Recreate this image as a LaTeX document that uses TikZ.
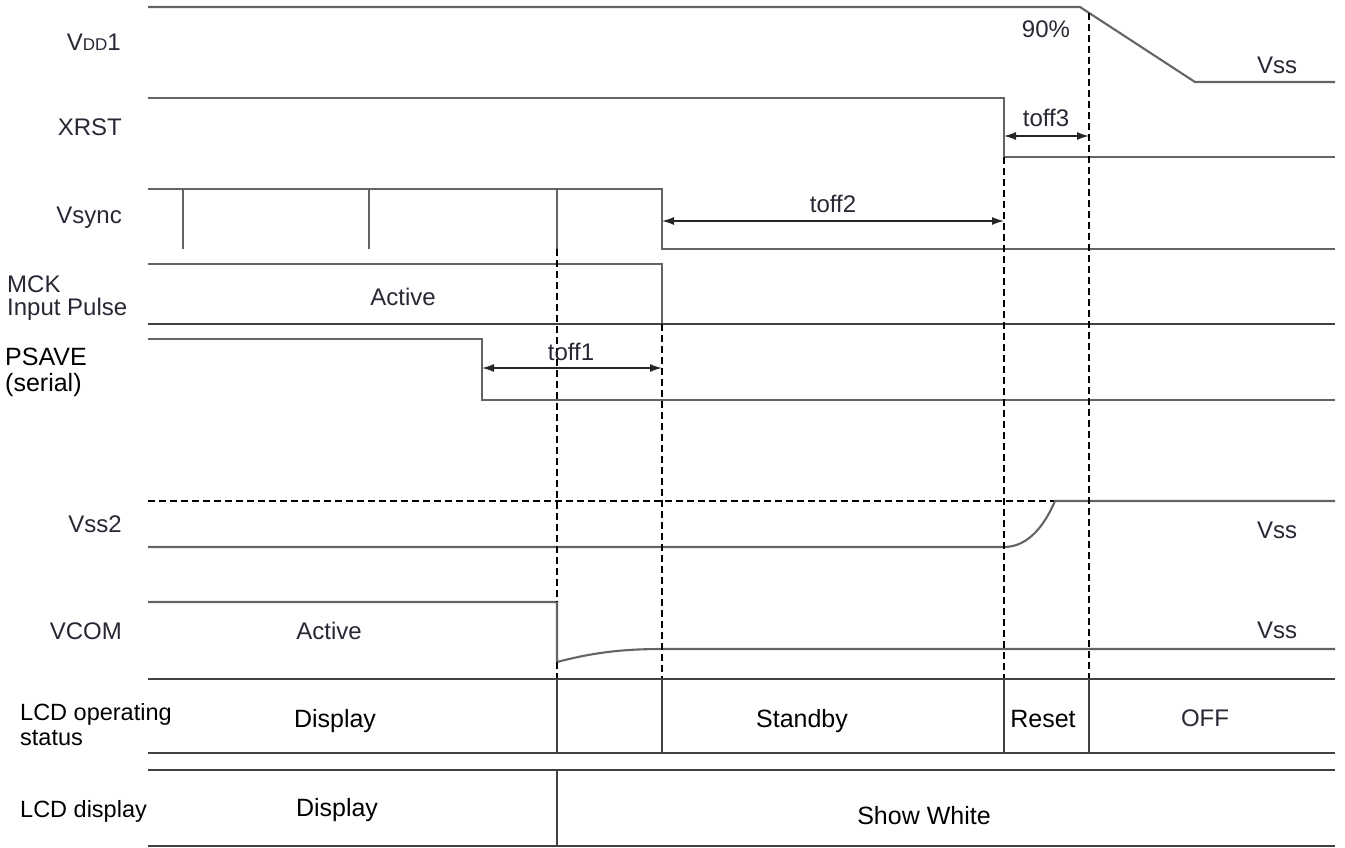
\documentclass[tikz,border=0pt]{standalone}
\usepackage{fontspec}
\setmainfont{Liberation Sans}
\usetikzlibrary{arrows.meta}
\definecolor{sigc}{RGB}{100,100,100}
\definecolor{rowc}{RGB}{65,65,65}
\definecolor{lblc}{RGB}{40,40,52}
\begin{document}
\begin{tikzpicture}[x=1pt,y=-1pt,
  sig/.style={draw=sigc,line width=2.1pt},
  rowline/.style={draw=rowc,line width=2.1pt},
  guide/.style={draw=black,line width=1.2pt,dash pattern=on 7pt off 4pt},
  dim/.style={draw=black!85,line width=1.3pt,{Latex[length=12pt,width=8pt]}-{Latex[length=12pt,width=8pt]}},
  lab/.style={inner sep=0pt,text=lblc,font=\fontsize{24}{26}\selectfont},
  blk/.style={inner sep=0pt,text=black,font=\fontsize{25}{27}\selectfont},
  sml/.style={inner sep=0pt,text=black,font=\fontsize{23.5}{26}\selectfont,align=left}]
\useasboundingbox (0,0) rectangle (1345,847);

% ---------- key coordinates ----------
\coordinate (vddA) at (148,7);
\coordinate (vddB) at (1080,7);
\coordinate (vddC) at (1195,82);
\coordinate (vddD) at (1335,82);
\coordinate (xrA) at (148,98);
\coordinate (xrB) at (1004,98);
\coordinate (xrC) at (1004,157);
\coordinate (xrD) at (1335,157);
\coordinate (vsA) at (148,189);
\coordinate (vsB) at (662,189);
\coordinate (vsC) at (662,249);
\coordinate (vsD) at (1335,249);
\coordinate (mkA) at (148,264);
\coordinate (mkB) at (662,264);
\coordinate (mkC) at (662,324);
\coordinate (mkL) at (148,324);
\coordinate (mkR) at (1335,324);
\coordinate (psA) at (148,339);
\coordinate (psB) at (482,339);
\coordinate (psC) at (482,400);
\coordinate (psD) at (1335,400);
\coordinate (s2dA) at (148,501);
\coordinate (s2dB) at (1055,501);
\coordinate (s2A) at (148,547);
\coordinate (s2B) at (1004,547);
\coordinate (s2D) at (1335,501);
\coordinate (vcA) at (148,602);
\coordinate (vcB) at (557,602);
\coordinate (vcC) at (557,662);
\coordinate (vcD) at (662,649);
\coordinate (vcE) at (1335,649);

% ---------- signals ----------
\draw[sig] (vddA) -- (vddB) -- (vddC) -- (vddD);
\draw[sig] (xrA) -- (xrB) -- (xrC) -- (xrD);
\draw[sig] (vsA) -- (vsB) -- (vsC) -- (vsD);
\foreach \px in {183,369,557} \draw[sig] (\px,189) -- (\px,249);
\draw[sig] (mkA) -- (mkB) -- (mkC);
\draw[rowline] (mkL) -- (mkR);
\draw[sig] (psA) -- (psB) -- (psC) -- (psD);
\draw[guide] (s2dA) -- (s2dB);
\draw[sig] (s2A) -- (s2B) .. controls (1030,547) and (1046,522) .. (s2dB) -- (s2D);
\draw[sig] (vcA) -- (vcB) -- (vcC) .. controls (595,652) and (625,649) .. (vcD) -- (vcE);

% ---------- guides ----------
\draw[guide] (557,249) -- (557,602);
\draw[guide] (557,662) -- (557,679);
\draw[guide] (662,324) -- (662,679);
\draw[guide] (1004,157) -- (1004,679);
\draw[guide] (1089,13) -- (1089,679);

% ---------- dimension arrows ----------
\coordinate (d1a) at (482,368); \coordinate (d1b) at (662,368);
\coordinate (d2a) at (662,221); \coordinate (d2b) at (1004,221);
\coordinate (d3a) at (1004,136); \coordinate (d3b) at (1089,136);
\draw[dim] (d1a) -- (d1b);
\draw[dim] (d2a) -- (d2b);
\draw[dim] (d3a) -- (d3b);
\node[lab,anchor=base] (t1) at (571,360) {toff1};
\node[lab,anchor=base] (t2) at (833,212) {toff2};
\node[lab,anchor=base] (t3) at (1046,126) {toff3};
\node[lab,anchor=base] (p90) at (1046,37) {90\%};

% ---------- status rows ----------
\draw[rowline] (148,679) -- (1335,679);
\draw[rowline] (148,753) -- (1335,753);
\foreach \px in {557,662,1004,1089} \draw[rowline,line width=1.6pt] (\px,679) -- (\px,753);
\draw[rowline] (148,770) -- (1335,770);
\draw[rowline] (148,846) -- (1335,846);
\draw[rowline,line width=1.6pt] (557,770) -- (557,846);

% ---------- labels ----------
\node[lab,anchor=base east] (nVDD) at (121,50) {V{\fontsize{17}{17}\selectfont DD}1};
\node[lab,anchor=base east] (nXR) at (122,135) {XRST};
\node[lab,anchor=base east] (nVS) at (122,223) {Vsync};
\node[lab,anchor=base west] (nMCK) at (7,292) {MCK};
\node[lab,anchor=base west] (nIP) at (7,315) {Input Pulse};
\node[lab,anchor=base] (nAct1) at (403,305) {Active};
\node[blk,anchor=base west] (nPS) at (5,365) {PSAVE};
\node[blk,anchor=base west] (nSer) at (5,391) {(serial)};
\node[lab,anchor=base east] (nVS2) at (122,532) {Vss2};
\node[lab,anchor=base east] (nVC) at (122,639) {VCOM};
\node[lab,anchor=base] (nAct2) at (329,639) {Active};
\node[lab,anchor=base west] (nVss1) at (1257,73) {Vss};
\node[lab,anchor=base west] (nVss2) at (1257,538) {Vss};
\node[lab,anchor=base west] (nVss3) at (1257,638) {Vss};

\node[sml,anchor=base west] (nOp1) at (20,720) {LCD operating};
\node[sml,anchor=base west] (nOp2) at (20,745) {status};
\node[blk,anchor=base] (nDisp1) at (335,727) {Display};
\node[blk,anchor=base] (nStby) at (802,727) {Standby};
\node[blk,anchor=base] (nRst) at (1043,727) {Reset};
\node[lab,anchor=base] (nOff) at (1205,726) {OFF};
\node[sml,anchor=base west] (nDispL) at (20,817) {LCD display};
\node[blk,anchor=base] (nDisp2) at (337,816) {Display};
\node[blk,anchor=base] (nSW) at (924,824) {Show White};
\end{tikzpicture}
\end{document}
